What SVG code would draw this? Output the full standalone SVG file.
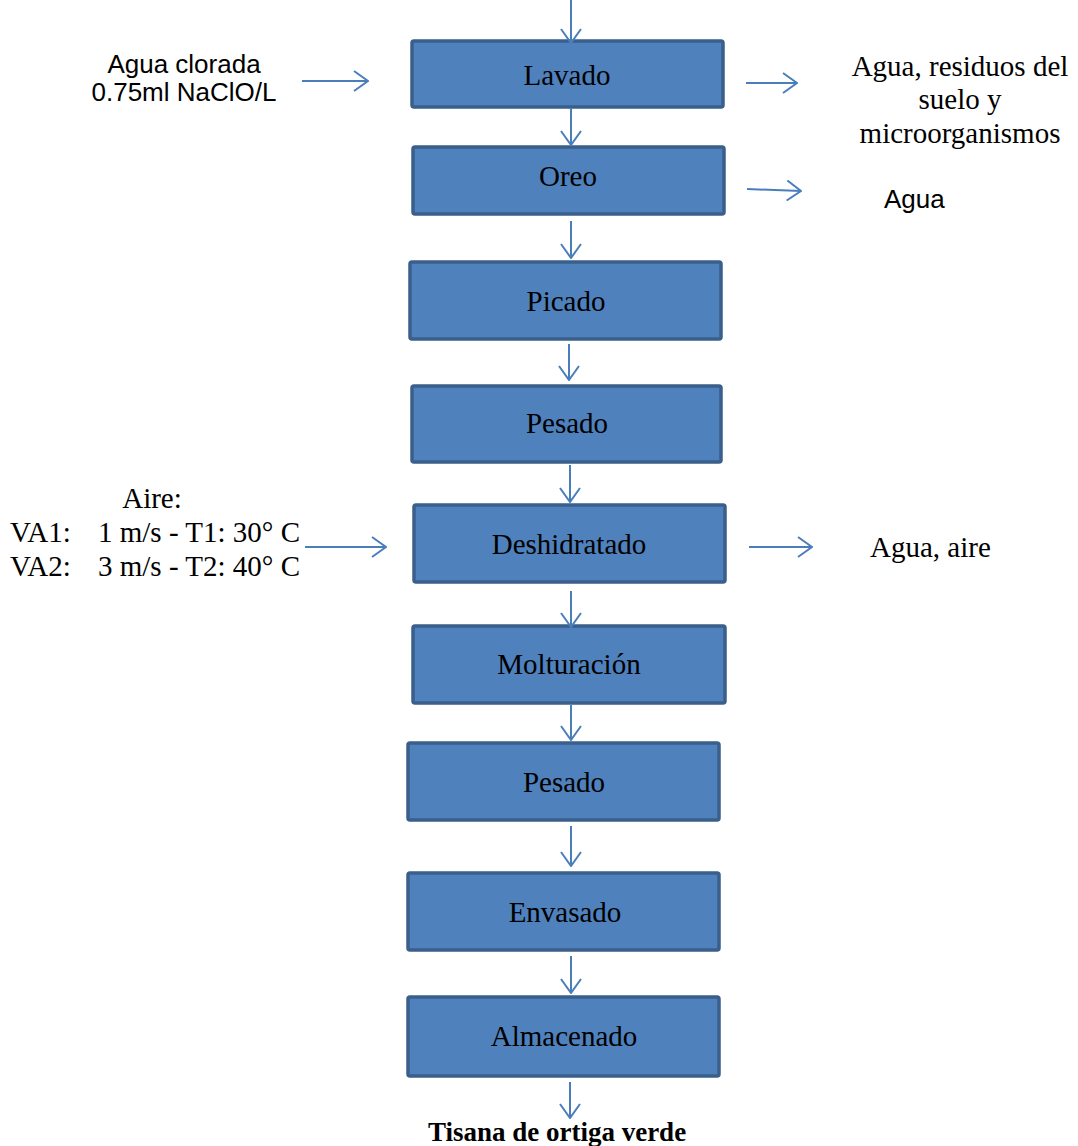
<svg xmlns="http://www.w3.org/2000/svg" width="1078" height="1146" viewBox="0 0 1078 1146">
<style>
.box{fill:#4f81bd;stroke:#3a5f8b;stroke-width:3.5}
.lbl{font-family:"Liberation Serif",serif;font-size:29px;fill:#000;text-anchor:middle}
.ser{font-family:"Liberation Serif",serif;font-size:29px;fill:#000}
.san{font-family:"Liberation Sans",sans-serif;font-size:26px;fill:#000}
.con line{stroke:#4a7ebb;stroke-width:2;fill:none;marker-end:url(#ah)}
</style>
<defs>
<marker id="ah" viewBox="0 0 16 22" refX="15" refY="11" markerWidth="16" markerHeight="22" markerUnits="userSpaceOnUse" orient="auto">
<path d="M1,1 L15,11 L1,21" fill="none" stroke="#4a7ebb" stroke-width="2"/>
</marker>
</defs>
<rect width="1078" height="1146" fill="#fff"/>
<g id="n-lavado"><rect class="box" x="412" y="41" width="311" height="66" rx="2"/><text class="lbl" x="567" y="85">Lavado</text></g>
<g id="n-oreo"><rect class="box" x="413" y="147" width="311" height="67" rx="2"/><text class="lbl" x="568" y="186">Oreo</text></g>
<g id="n-picado"><rect class="box" x="410" y="262" width="311" height="77" rx="2"/><text class="lbl" x="566" y="311">Picado</text></g>
<g id="n-pesado1"><rect class="box" x="412" y="386" width="309" height="76" rx="2"/><text class="lbl" x="567" y="433">Pesado</text></g>
<g id="n-deshidratado"><rect class="box" x="414" y="505" width="311" height="77" rx="2"/><text class="lbl" x="569" y="554">Deshidratado</text></g>
<g id="n-molturacion"><rect class="box" x="413" y="626" width="312" height="77" rx="2"/><text class="lbl" x="569" y="674">Molturación</text></g>
<g id="n-pesado2"><rect class="box" x="408" y="743" width="311" height="77" rx="2"/><text class="lbl" x="564" y="792">Pesado</text></g>
<g id="n-envasado"><rect class="box" x="408" y="873" width="311" height="77" rx="2"/><text class="lbl" x="565" y="922">Envasado</text></g>
<g id="n-almacenado"><rect class="box" x="408" y="997" width="311" height="79" rx="2"/><text class="lbl" x="564" y="1046">Almacenado</text></g>
<g id="texts">
<text class="san" x="184" y="73" text-anchor="middle">Agua clorada</text>
<text class="san" x="184" y="101" text-anchor="middle">0.75ml NaClO/L</text>
<text class="ser" x="960" y="76" text-anchor="middle">Agua, residuos del</text>
<text class="ser" x="960" y="109" text-anchor="middle">suelo y</text>
<text class="ser" x="960" y="143" text-anchor="middle">microorganismos</text>
<text class="san" x="884" y="208">Agua</text>
<text class="ser" x="870" y="557">Agua, aire</text>
<text class="ser" x="152" y="508" text-anchor="middle">Aire:</text>
<text class="ser" x="10" y="542">VA1: <tspan x="98">1 m/s - T1: 30° C</tspan></text>
<text class="ser" x="10" y="576">VA2: <tspan x="98">3 m/s - T2: 40° C</tspan></text>
<text x="557" y="1141" text-anchor="middle" style="font-family:'Liberation Serif',serif;font-size:27px;font-weight:bold">Tisana de ortiga verde</text>
</g>
<g id="connectors" class="con">
<line x1="571" y1="0" x2="571" y2="43"/>
<line x1="571" y1="108" x2="571" y2="145"/>
<line x1="571" y1="221" x2="571" y2="258"/>
<line x1="569" y1="344" x2="569" y2="380"/>
<line x1="570" y1="465" x2="570" y2="502"/>
<line x1="571" y1="591" x2="571" y2="627"/>
<line x1="571" y1="705" x2="571" y2="740"/>
<line x1="571" y1="826" x2="571" y2="866"/>
<line x1="571" y1="956" x2="571" y2="993"/>
<line x1="570" y1="1082" x2="570" y2="1118"/>
<line x1="302" y1="81" x2="368" y2="81"/>
<line x1="746" y1="83" x2="797" y2="83"/>
<line x1="747" y1="189" x2="801" y2="191"/>
<line x1="305" y1="547" x2="386" y2="547"/>
<line x1="749" y1="547" x2="812" y2="547"/>
</g>
</svg>
